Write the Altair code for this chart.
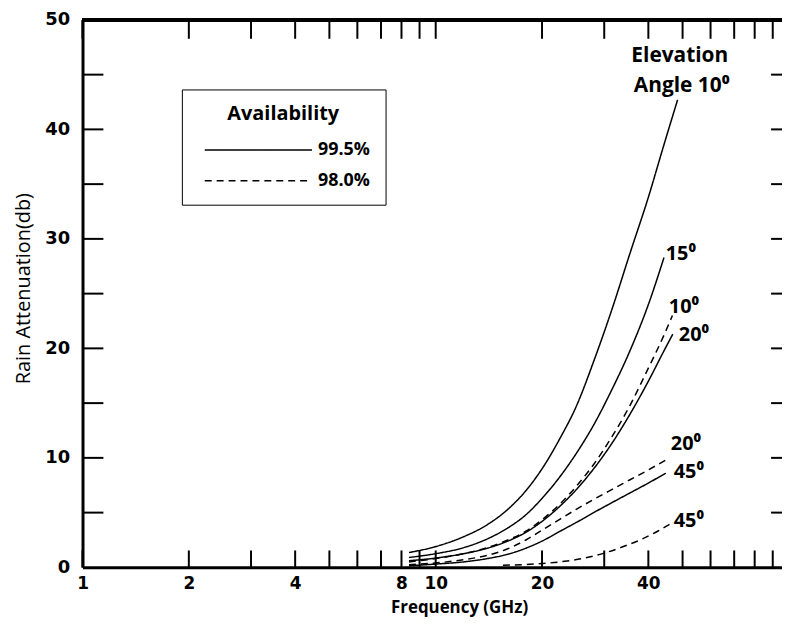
import altair as alt
import pandas as pd

# ---- curve data (frequency GHz, attenuation dB) ----
f_10_995 = [8.4, 10, 12, 14, 16, 18, 20, 22.5, 25, 28, 31.5, 35.5, 40, 44, 48.4]
a_10_995 = [1.35, 1.9, 2.8, 3.9, 5.3, 7.0, 9.0, 11.8, 14.7, 18.8, 23.5, 28.7, 33.8, 38.3, 42.7]

f_15_995 = [8.4, 10, 12, 14, 16, 18, 20, 22.5, 25, 28, 31.5, 35.5, 40, 44.3]
a_15_995 = [0.9, 1.25, 1.8, 2.6, 3.6, 4.8, 6.3, 8.3, 10.4, 13.0, 16.2, 19.8, 24.0, 28.3]

f_20_995 = [8.4, 10, 12, 14, 16, 18, 20, 22.5, 25, 28, 31.5, 35.5, 40, 44, 46.9]
a_20_995 = [0.6, 0.85, 1.25, 1.75, 2.4, 3.2, 4.2, 5.6, 7.1, 9.0, 11.3, 14.0, 17.0, 19.6, 21.3]

f_45_995 = [8.4, 10, 12, 14, 16, 18, 20, 22.5, 25, 28, 31.5, 35.5, 40, 44.8]
a_45_995 = [0.15, 0.3, 0.5, 0.8, 1.2, 1.75, 2.4, 3.3, 4.1, 5.0, 5.9, 6.8, 7.7, 8.6]

f_10_980 = [8.4, 10, 12, 14, 16, 18, 20, 22.5, 25, 28, 31.5, 35.5, 40, 44, 46.8]
a_10_980 = [0.5, 0.8, 1.25, 1.8, 2.5, 3.3, 4.35, 5.8, 7.4, 9.4, 11.9, 14.8, 18.2, 21.0, 23.0]

f_20_980 = [8.4, 10, 12, 14, 16, 18, 20, 22.5, 25, 28, 31.5, 35.5, 40, 44.8]
a_20_980 = [0.25, 0.4, 0.7, 1.1, 1.7, 2.5, 3.4, 4.4, 5.3, 6.2, 7.1, 8.0, 8.9, 9.8]

f_45_980 = [15.5, 19, 22.5, 26, 30, 34, 38.5, 42.5, 46.3]
a_45_980 = [0.2, 0.3, 0.5, 0.8, 1.3, 1.9, 2.6, 3.3, 4.0]

availability = ["99.5%", "98.0%"]

# axis ticks / labels
x_ticks = [1, 2, 3, 4, 5, 6, 7, 8, 9, 10, 20, 30, 40, 50, 60, 70, 80, 90]
x_labels = [1, 2, 4, 8, 10, 20, 40]
y_ticks = [5, 10, 15, 20, 25, 30, 35, 40, 45]
y_labels = [0, 10, 20, 30, 40, 50]

# annotation labels
ann_text = ["15⁰", "10⁰", "20⁰", "20⁰", "45⁰", "45⁰"]
ann_f = [44.8, 45.7, 48.8, 46.3, 47.2, 47.2]
ann_v = [28.6, 23.8, 21.2, 11.3, 8.7, 4.2]
title_text = ["Elevation", "Angle 10⁰"]
title_f = [49.1, 49.7]
title_v = [46.7, 44.0]

curves = [
    ("10_995", availability[0], f_10_995, a_10_995),
    ("15_995", availability[0], f_15_995, a_15_995),
    ("20_995", availability[0], f_20_995, a_20_995),
    ("45_995", availability[0], f_45_995, a_45_995),
    ("10_980", availability[1], f_10_980, a_10_980),
    ("20_980", availability[1], f_20_980, a_20_980),
    ("45_980", availability[1], f_45_980, a_45_980),
]
rows = []
for name, av, fs, vs in curves:
    for f, v in zip(fs, vs):
        rows.append({"curve": name, "avail": av, "f": f, "v": v})
df = pd.DataFrame(rows)

W, H = 704, 551

xscale = alt.Scale(type="log", domain=[1, 95.6], nice=False)
yscale = alt.Scale(domain=[0, 50], nice=False)

xaxis = alt.Axis(
    values=x_labels, ticks=False, grid=False, domainColor="black", domainWidth=3,
    labelFont="DejaVu Sans", labelFontWeight="bold", labelFontSize=17, labelColor="black",
    labelPadding=8, labelFlush=False, labelOverlap=False,
    titleFont="Open Sans", titleFontWeight="bold", titleFontSize=17, titleColor="black",
    titleX=379, titleY=40, titleBaseline="middle", titleAlign="center",
)
yaxis = alt.Axis(
    values=y_labels, ticks=False, grid=False, domainColor="black", domainWidth=3,
    labelFont="DejaVu Sans", labelFontWeight="bold", labelFontSize=18, labelColor="black",
    labelPadding=13, labelOffset=0,
    titleFont="Open Sans", titleFontWeight="normal", titleFontSize=20, titleColor="black",
    titleX=-59, titleY=270, titleBaseline="middle", titleAlign="center", titleAngle=270,
)

X = alt.X("f:Q", scale=xscale, axis=xaxis, title="Frequency (GHz)")
Y = alt.Y("v:Q", scale=yscale, axis=yaxis, title="Rain Attenuation(db)")

lines = alt.Chart(df).mark_line(color="black", strokeWidth=1.5, interpolate="monotone").encode(
    x=X, y=Y, detail="curve:N",
    strokeDash=alt.StrokeDash(
        "avail:N",
        scale=alt.Scale(domain=availability, range=[[1, 0], [7, 5]]),
        sort=availability,
        legend=alt.Legend(
            title="Availability", orient="none", legendX=100, legendY=70,
            strokeColor="black", padding=15, fillColor="white",
            titleFont="Open Sans", titleFontWeight="bold", titleFontSize=20, titleColor="black",
            titleAnchor="middle", titleAlign="center", titlePadding=20,
            symbolType="stroke", symbolSize=108 * 108, symbolStrokeWidth=1.5,
            symbolStrokeColor="black", symbolOffset=7, clipHeight=12, rowPadding=13,
            labelFont="Open Sans", labelFontWeight="bold", labelFontSize=18, labelColor="black",
            labelOffset=5,
        ),
    ),
)

xt = pd.DataFrame({"f": x_ticks})
yt = pd.DataFrame({"v": y_ticks})

bottom_ticks = alt.Chart(xt).mark_rule(color="black", strokeWidth=2).encode(
    x=X, y=alt.value(H), y2=alt.value(H - 17))
top_ticks = alt.Chart(xt).mark_rule(color="black", strokeWidth=2).encode(
    x=X, y=alt.value(0), y2=alt.value(19))
left_ticks = alt.Chart(yt).mark_rule(color="black", strokeWidth=2).encode(
    y=Y, x=alt.value(0), x2=alt.value(21))
right_ticks = alt.Chart(yt).mark_rule(color="black", strokeWidth=2).encode(
    y=Y, x=alt.value(W - 11), x2=alt.value(W))
top_border = alt.Chart(xt).mark_rule(color="black", strokeWidth=3).encode(
    x=alt.value(0), x2=alt.value(W), y=alt.value(0))

ann = pd.DataFrame({"f": ann_f, "v": ann_v, "t": ann_text})
ttl = pd.DataFrame({"f": title_f, "v": title_v, "t": title_text})

ann_layer = alt.Chart(ann).mark_text(
    align="left", baseline="middle", font="Open Sans", fontWeight="bold", fontSize=20, color="black"
).encode(x=X, y=Y, text="t:N")
ttl_layer = alt.Chart(ttl).mark_text(
    align="center", baseline="middle", font="Open Sans", fontWeight="bold", fontSize=21, color="black"
).encode(x=X, y=Y, text="t:N")

chart = alt.layer(
    top_border, bottom_ticks, top_ticks, left_ticks, right_ticks, lines, ann_layer, ttl_layer
).properties(
    width=W, height=H,
    autosize=alt.AutoSizeParams(type="none"),
    padding={"left": 75, "top": 10, "right": 0, "bottom": 50},
).configure_view(stroke=None).configure_legend(strokeWidth=2).configure(background="white")

chart.save("out.html", embed_options={"renderer": "svg", "actions": False})
